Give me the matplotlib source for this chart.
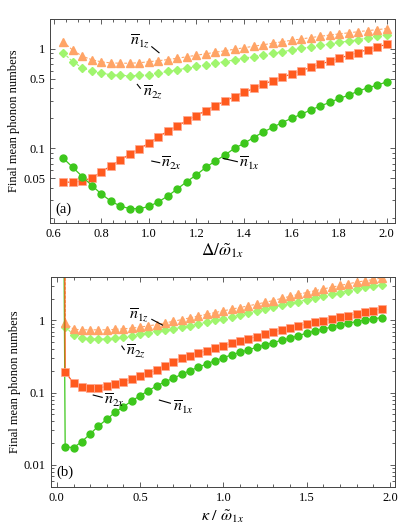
import numpy as np
import matplotlib
matplotlib.use("Agg")
import matplotlib.pyplot as plt
from matplotlib.ticker import MultipleLocator, FixedLocator, NullFormatter, LogLocator

plt.rcParams['font.family'] = ['Liberation Serif', 'DejaVu Serif']
plt.rcParams['mathtext.fontset'] = 'stix'

#%% panel (a) data: detuning Delta / omega_1x
delta = [0.64, 0.68, 0.72, 0.76, 0.80, 0.84, 0.88, 0.92, 0.96, 1.00, 1.04, 1.08,
         1.12, 1.16, 1.20, 1.24, 1.28, 1.32, 1.36, 1.40, 1.44, 1.48, 1.52, 1.56,
         1.60, 1.64, 1.68, 1.72, 1.76, 1.80, 1.84, 1.88, 1.92, 1.96, 2.00]
a_n1x = [0.0794, 0.0643, 0.0520, 0.0423, 0.0348, 0.0295, 0.0263, 0.0248, 0.0248,
         0.0261, 0.0290, 0.0333, 0.0392, 0.0464, 0.0541, 0.0646, 0.0746, 0.0857,
         0.100, 0.112, 0.128, 0.145, 0.162, 0.181, 0.200, 0.219, 0.242, 0.265,
         0.288, 0.316, 0.341, 0.374, 0.404, 0.430, 0.463]
a_n2x = [0.0460, 0.0455, 0.0470, 0.0505, 0.058, 0.0665, 0.0764, 0.0871, 0.0984,
         0.113, 0.130, 0.149, 0.167, 0.190, 0.213, 0.239, 0.268, 0.297, 0.330,
         0.363, 0.398, 0.437, 0.477, 0.516, 0.557, 0.600, 0.646, 0.697, 0.746,
         0.800, 0.857, 0.912, 0.977, 1.038, 1.104]
a_n1z = [1.164, 0.962, 0.838, 0.773, 0.735, 0.718, 0.713, 0.713, 0.721, 0.738,
         0.755, 0.776, 0.800, 0.828, 0.857, 0.887, 0.918, 0.951, 0.984, 1.019,
         1.054, 1.091, 1.130, 1.169, 1.211, 1.247, 1.288, 1.327, 1.365, 1.403,
         1.439, 1.476, 1.514, 1.549, 1.585]
a_n2z = [0.908, 0.735, 0.643, 0.593, 0.566, 0.547, 0.537, 0.535, 0.537, 0.547,
         0.566, 0.590, 0.614, 0.635, 0.661, 0.686, 0.713, 0.741, 0.769, 0.800,
         0.832, 0.863, 0.897, 0.929, 0.966, 1.002, 1.038, 1.074, 1.112, 1.151,
         1.189, 1.230, 1.274, 1.327, 1.380]

#%% panel (b) data: kappa / omega_1x
kappa = [0.05, 0.10, 0.15, 0.20, 0.25, 0.30, 0.35, 0.40, 0.45, 0.50, 0.55, 0.60,
         0.65, 0.70, 0.75, 0.80, 0.85, 0.90, 0.95, 1.00, 1.05, 1.10, 1.15, 1.20,
         1.25, 1.30, 1.35, 1.40, 1.45, 1.50, 1.55, 1.60, 1.65, 1.70, 1.75, 1.80,
         1.85, 1.90, 1.95]
b_n1x = [0.0179, 0.0173, 0.0210, 0.0268, 0.0346, 0.0428, 0.0536, 0.0640, 0.0767,
         0.0909, 0.1066, 0.124, 0.142, 0.158, 0.180, 0.202, 0.225, 0.250, 0.277,
         0.305, 0.333, 0.363, 0.390, 0.425, 0.458, 0.493, 0.532, 0.567, 0.616,
         0.665, 0.716, 0.763, 0.805, 0.867, 0.914, 0.962, 1.016, 1.049, 1.093]
b_n2x = [0.195, 0.135, 0.120, 0.115, 0.116, 0.122, 0.130, 0.141, 0.155, 0.170,
         0.186, 0.206, 0.234, 0.269, 0.300, 0.325, 0.351, 0.382, 0.412, 0.443,
         0.483, 0.520, 0.554, 0.597, 0.644, 0.687, 0.739, 0.780, 0.839, 0.894,
         0.944, 0.994, 1.049, 1.107, 1.165, 1.230, 1.299, 1.367, 1.443]
b_n1z = [0.915, 0.755, 0.739, 0.739, 0.739, 0.739, 0.750, 0.763, 0.780, 0.805,
         0.839, 0.875, 0.923, 0.969, 1.026, 1.083, 1.147, 1.211, 1.282, 1.354,
         1.429, 1.504, 1.588, 1.676, 1.775, 1.880, 2.017, 2.149, 2.291, 2.427,
         2.570, 2.723, 2.873, 3.034, 3.203, 3.371, 3.525, 3.673, 3.842]
b_n2z = [0.821, 0.630, 0.578, 0.554, 0.549, 0.554, 0.567, 0.585, 0.610, 0.640,
         0.671, 0.704, 0.727, 0.763, 0.800, 0.845, 0.894, 0.944, 1.000, 1.059,
         1.118, 1.184, 1.258, 1.341, 1.425, 1.514, 1.609, 1.714, 1.821, 1.923,
         2.036, 2.163, 2.291, 2.419, 2.554, 2.697, 2.847, 2.985, 3.103]
# the curves shoot off the top of panel (b) just below the first sample
kappa_edge = [0.040, 0.046, 0.048, 0.044]   # n1x, n2x, n1z, n2z
edge_value = 100.0

c_n1x = '#3dc71c'
c_n2x = '#ff5a1e'
c_n1z = '#ffa466'
c_n2z = '#a0f56e'

styles = {
    'n1x': dict(color=c_n1x, ls='-', marker='o', ms=5.0, mec=c_n1x, lw=0.9),
    'n2x': dict(color=c_n2x, ls='-', marker='s', ms=5.4, mec='#ffa890', mew=0.5, lw=0.9),
    'n1z': dict(color=c_n1z, ls=(0, (2.5, 1.5)), marker='^', ms=5.8, mec=c_n1z, lw=0.8),
    'n2z': dict(color=c_n2z, ls=(0, (2.5, 1.5)), marker='D', ms=4.4, mec=c_n2z, lw=0.8),
}

fig = plt.figure(figsize=(3.99, 5.30), dpi=100)
ax1 = fig.add_axes([0.1253, 0.5792, 0.8647, 0.3858])
ax2 = fig.add_axes([0.1266, 0.0817, 0.8634, 0.3966])

#%% (a)
ax1.plot(delta, a_n2z, **styles['n2z'])
ax1.plot(delta, a_n1z, **styles['n1z'])
ax1.plot(delta, a_n2x, **styles['n2x'])
ax1.plot(delta, a_n1x, **styles['n1x'])

#%% (b)
order = [('n2z', b_n2z, 3), ('n1z', b_n1z, 2), ('n1x', b_n1x, 0), ('n2x', b_n2x, 1)]
for key, vals, j in order:
    st = dict(styles[key])
    xs = [kappa_edge[j]] + kappa
    ys = [edge_value] + vals
    ax2.plot(xs, ys, markevery=list(range(1, len(xs))), **st)

for ax in (ax1, ax2):
    ax.set_yscale('log')
    ax.tick_params(which='both', direction='in', top=True, right=True, labelsize=9,
                   width=0.6, color='#444444')
    ax.tick_params(which='major', length=3.5)
    ax.tick_params(which='minor', length=2)
    for sp in ax.spines.values():
        sp.set_linewidth(0.7)
        sp.set_color('#444444')
    ax.yaxis.set_minor_locator(LogLocator(base=10, subs=np.arange(2, 10)))
    ax.yaxis.set_minor_formatter(NullFormatter())
    ax.set_ylabel('Final mean phonon numbers', fontsize=9, labelpad=2)

ax1.set_xlim(0.584, 2.035)
ax1.set_ylim(0.0178, 2.0)
ax1.xaxis.set_minor_locator(MultipleLocator(0.05))
ax1.yaxis.set_major_locator(FixedLocator([0.05, 0.1, 0.5, 1]))
ax1.set_yticklabels(['0.05', '0.1', '0.5', '1'])
ax1.set_xticks([0.6, 0.8, 1.0, 1.2, 1.4, 1.6, 1.8, 2.0])
ax1.set_xticklabels(['0.6', '0.8', '1.0', '1.2', '1.4', '1.6', '1.8', '2.0'])
ax1.set_xlabel(r'$\Delta/\tilde{\omega}_{1x}$', fontsize=12.5, labelpad=1)

ax2.set_xlim(-0.038, 2.03)
ax2.set_ylim(0.005, 4.04)
ax2.xaxis.set_minor_locator(MultipleLocator(0.1))
ax2.yaxis.set_major_locator(FixedLocator([0.01, 0.1, 1]))
ax2.set_yticklabels(['0.01', '0.1', '1'])
ax2.set_xticks([0.0, 0.5, 1.0, 1.5, 2.0])
ax2.set_xticklabels(['0.0', '0.5', '1.0', '1.5', '2.0'])
ax2.set_xlabel(r'$\kappa\ /\ \tilde{\omega}_{1x}$', fontsize=11.5, labelpad=3)

#%% curve labels with short leader lines (axes fractions)
labels_a = [
    (r'$\overline{n}_{1z}$', (0.261, 0.890), (0.295, 0.862), (0.316, 0.833)),
    (r'$\overline{n}_{2z}$', (0.300, 0.641), (0.253, 0.678), (0.262, 0.659)),
    (r'$\overline{n}_{2x}$', (0.352, 0.289), (0.295, 0.303), (0.318, 0.295)),
    (r'$\overline{n}_{1x}$', (0.578, 0.289), (0.502, 0.316), (0.543, 0.300)),
]
labels_b = [
    (r'$\overline{n}_{1z}$', (0.257, 0.821), (0.294, 0.796), (0.325, 0.769)),
    (r'$\overline{n}_{2z}$', (0.249, 0.646), (0.207, 0.669), (0.214, 0.652)),
    (r'$\overline{n}_{2x}$', (0.185, 0.412), (0.124, 0.436), (0.150, 0.425)),
    (r'$\overline{n}_{1x}$', (0.386, 0.379), (0.316, 0.412), (0.348, 0.397)),
]
for ax, labs in ((ax1, labels_a), (ax2, labels_b)):
    for txt, tp, p0, p1 in labs:
        ax.text(tp[0], tp[1], txt, transform=ax.transAxes, fontsize=11.5,
                ha='center', va='center')
        ax.plot([p0[0], p1[0]], [p0[1], p1[1]], transform=ax.transAxes,
                color='black', lw=0.8)

ax1.text(0.015, 0.065, '(a)', transform=ax1.transAxes, fontsize=10.5, va='center')
ax2.text(0.018, 0.07, '(b)', transform=ax2.transAxes, fontsize=10.5, va='center')

fig.savefig('out.png', dpi=100)
